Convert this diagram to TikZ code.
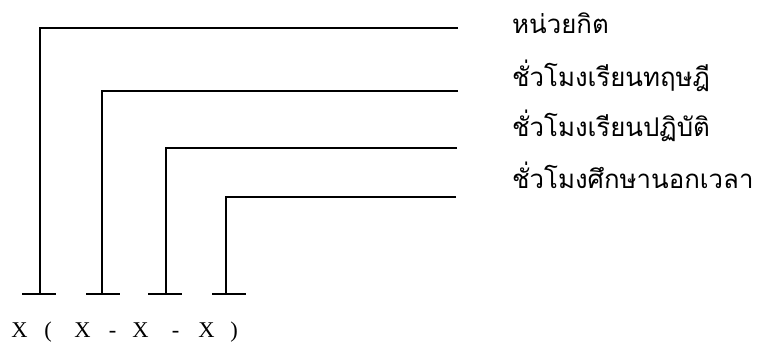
\documentclass[tikz,border=0pt]{standalone}
\usepackage{fontspec}
\setmainfont{Liberation Serif}
\newfontfamily\thaifont[Script=Thai]{Loma}
\begin{document}
\begin{tikzpicture}[x=1pt,y=-1pt,
  ln/.style={line width=1.9pt},
  lbl/.style={font=\thaifont\fontsize{25.8}{30}\selectfont, anchor=base west, inner sep=0pt},
  chr/.style={font=\fontsize{22.5}{26}\selectfont, anchor=base, inner sep=0pt}]
\useasboundingbox (0,0) rectangle (758,341);
% corners and ends
\coordinate (c1) at (40,28);  \coordinate (e1) at (458,28);
\coordinate (c2) at (102,91); \coordinate (e2) at (458,91);
\coordinate (c3) at (166,148);\coordinate (e3) at (457,148);
\coordinate (c4) at (226,197);\coordinate (e4) at (456,197);
\coordinate (b1) at (40,294); \coordinate (b2) at (102,294);
\coordinate (b3) at (166,294);\coordinate (b4) at (226,294);
\coordinate (l1) at (22,294); \coordinate (r1) at (56,294);
\coordinate (l2) at (86,294); \coordinate (r2) at (120,294);
\coordinate (l3) at (148,294);\coordinate (r3) at (182,294);
\coordinate (l4) at (212,294);\coordinate (r4) at (246,294);
\draw[ln] (e1) -- (c1) -- (b1);
\draw[ln] (e2) -- (c2) -- (b2);
\draw[ln] (e3) -- (c3) -- (b3);
\draw[ln] (e4) -- (c4) -- (b4);
\draw[ln] (l1) -- (r1);
\draw[ln] (l2) -- (r2);
\draw[ln] (l3) -- (r3);
\draw[ln] (l4) -- (r4);
% labels
\node[lbl] (t1) at (512,33) {หน่วยกิต};
\node[lbl] (t2) at (512,86) {ชั่วโมงเรียนทฤษฎี};
\node[lbl] (t3) at (512,136) {ชั่วโมงเรียนปฏิบัติ};
\node[lbl] (t4) at (512,188) {ชั่วโมงศึกษานอกเวลา};
% formula
\node[chr] (x1) at (19.5,337) {X};
\node[chr] (p1) at (48,337) {(};
\node[chr] (x2) at (82.5,337) {X};
\node[chr] (m1) at (112.5,337) {-};
\node[chr] (x3) at (140.5,337) {X};
\node[chr] (m2) at (175.5,337) {-};
\node[chr] (x4) at (206.5,337) {X};
\node[chr] (p2) at (234,337) {)};
\end{tikzpicture}
\end{document}
